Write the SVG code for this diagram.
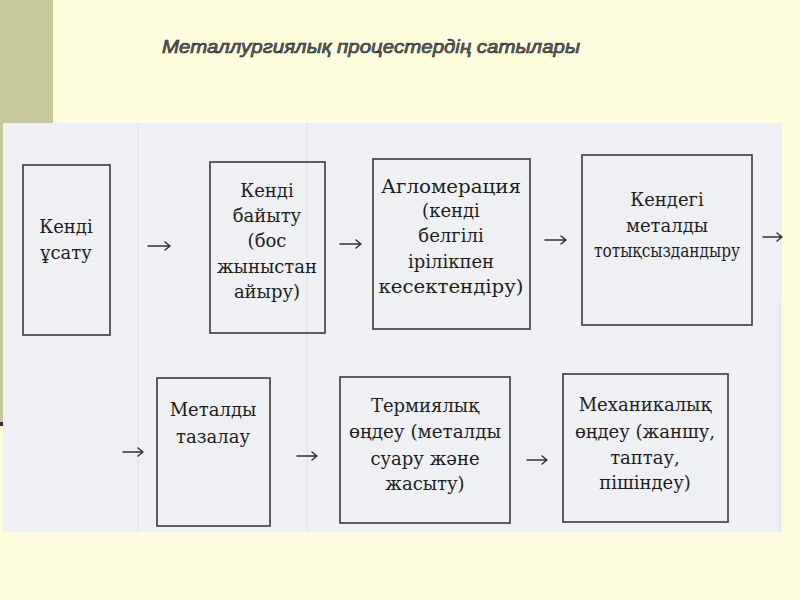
<svg xmlns="http://www.w3.org/2000/svg" width="800" height="600" viewBox="0 0 800 600">
<style>
.box{fill:none;stroke:#3a3a3a;stroke-width:1.6}
.t{font-family:"DejaVu Serif","Liberation Serif",serif;font-size:18px;fill:#1e1e1e;text-anchor:middle}
.arr{fill:none;stroke:#333;stroke-width:1.5;stroke-linecap:round;stroke-linejoin:round}
.title{font-family:"Liberation Sans","DejaVu Sans",sans-serif;font-style:italic;font-size:19px;fill:#666;stroke:#1a1a1a;stroke-width:0.6}
.grid{stroke:#dfe1e6;stroke-width:1}
</style>
<rect x="0" y="0" width="800" height="600" fill="#FEFEDF"/>
<rect x="0" y="0" width="53" height="124" fill="#C8C99A"/>
<rect x="0" y="124" width="3" height="302" fill="#C8C99A"/>
<rect x="0" y="422" width="3" height="4" fill="#4a2050"/>
<rect x="3" y="123" width="779" height="409" fill="#EEF0F4"/>
<g id="faint">
<line class="grid" x1="138" y1="123" x2="138" y2="532"/>
<line class="grid" x1="307" y1="123" x2="307" y2="532"/>
<line class="grid" x1="780" y1="300" x2="780" y2="532"/>
</g>
<text class="title" x="162" y="53" textLength="418" lengthAdjust="spacingAndGlyphs">Металлургиялық процестердің сатылары</text>

<g id="n1">
<rect class="box" x="23" y="165" width="87" height="170"/>
<text class="t" x="66" y="233">Кенді</text>
<text class="t" x="66" y="259">ұсату</text>
</g>
<g id="n2">
<rect class="box" x="210" y="162" width="115" height="171"/>
<text class="t" x="267" y="197">Кенді</text>
<text class="t" x="267" y="222">байыту</text>
<text class="t" x="267" y="247">(бос</text>
<text class="t" x="267" y="273" textLength="100" lengthAdjust="spacingAndGlyphs">жыныстан</text>
<text class="t" x="267" y="298">айыру)</text>
</g>
<g id="n3">
<rect class="box" x="373" y="159" width="157" height="170"/>
<text class="t" x="451" y="193" textLength="140" lengthAdjust="spacingAndGlyphs">Агломерация</text>
<text class="t" x="451" y="217">(кенді</text>
<text class="t" x="451" y="242">белгілі</text>
<text class="t" x="451" y="268">ірілікпен</text>
<text class="t" x="451" y="293" textLength="145" lengthAdjust="spacingAndGlyphs">кесектендіру)</text>
</g>
<g id="n4">
<rect class="box" x="582" y="155" width="170" height="170"/>
<text class="t" x="667" y="206">Кендегі</text>
<text class="t" x="667" y="232">металды</text>
<text class="t" x="667" y="257" textLength="146" lengthAdjust="spacingAndGlyphs">тотықсыздандыру</text>
</g>
<g id="n5">
<rect class="box" x="157" y="378" width="113" height="148"/>
<text class="t" x="213" y="416">Металды</text>
<text class="t" x="213" y="443">тазалау</text>
</g>
<g id="n6">
<rect class="box" x="340" y="377" width="170" height="146"/>
<text class="t" x="425" y="412">Термиялық</text>
<text class="t" x="425" y="438" textLength="152" lengthAdjust="spacingAndGlyphs">өңдеу (металды</text>
<text class="t" x="425" y="465">суару және</text>
<text class="t" x="425" y="490">жасыту)</text>
</g>
<g id="n7">
<rect class="box" x="563" y="374" width="165" height="148"/>
<text class="t" x="645" y="411">Механикалық</text>
<text class="t" x="645" y="438" textLength="140" lengthAdjust="spacingAndGlyphs">өңдеу (жаншу,</text>
<text class="t" x="645" y="464">таптау,</text>
<text class="t" x="645" y="489">пішіндеу)</text>
</g>

<g id="connectors">
<path class="arr" d="M148,246 H170 M165,242 L170,246 L165,250"/>
<path class="arr" d="M340,244 H361 M356,240 L361,244 L356,248"/>
<path class="arr" d="M545,240 H566 M561,236 L566,240 L561,244"/>
<path class="arr" d="M763,237 H782 M777,233 L782,237 L777,241"/>
<path class="arr" d="M123,452 H143 M138,448 L143,452 L138,456"/>
<path class="arr" d="M297,456 H317 M312,452 L317,456 L312,460"/>
<path class="arr" d="M527,460 H547 M542,456 L547,460 L542,464"/>
</g>
</svg>
